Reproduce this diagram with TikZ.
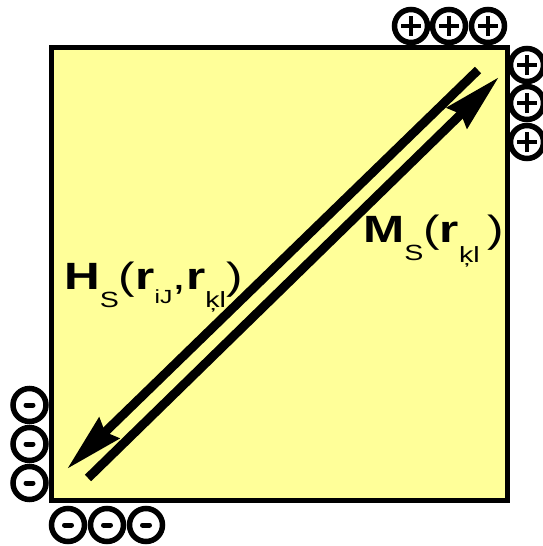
\documentclass[tikz,border=0pt]{standalone}
\usepackage{fontspec}
\setmainfont{Liberation Sans}
\usetikzlibrary{arrows.meta}
\definecolor{padyellow}{RGB}{255,255,153}
\newcommand\bigsize{\fontsize{38}{40}\selectfont}
\newcommand\subsize{\fontsize{22}{24}\selectfont}
\newcommand\widetext[1]{\scalebox{1.3}[1]{#1}}
\begin{document}
\begin{tikzpicture}[x=1pt,y=-1pt,
    charge/.style={circle,draw,line width=5.5pt,minimum size=33pt,inner sep=0pt},
    pluscharge/.style={charge,path picture={
        \draw[line width=4pt] ([xshift=-10pt]path picture bounding box.center) -- ([xshift=10pt]path picture bounding box.center);
        \draw[line width=4pt] ([yshift=-10pt]path picture bounding box.center) -- ([yshift=10pt]path picture bounding box.center);}},
    minuscharge/.style={charge,path picture={
        \draw[line width=5pt,line cap=round] ([xshift=-3.5pt]path picture bounding box.center) -- ([xshift=3.5pt]path picture bounding box.center);}},
    flux/.style={line width=9pt,-{Stealth[length=58pt,width=28pt,inset=5pt]}},
    formula/.style={inner sep=0pt,anchor=base west,font=\bigsize}]
  \useasboundingbox (0,0) rectangle (542,546);
  % pad
  \draw[line width=5pt,fill=padyellow] (51,47) rectangle (507,500);
  % charges
  \foreach \x [count=\i] in {411,449,488}
    \node[pluscharge] (top\i) at (\x,26) {};
  \foreach \y [count=\i] in {65,103,142}
    \node[pluscharge] (right\i) at (527,\y) {};
  \foreach \y [count=\i] in {405,444,483}
    \node[minuscharge] (left\i) at (29.5,\y) {};
  \foreach \x [count=\i] in {68,107,146}
    \node[minuscharge] (bottom\i) at (\x,525) {};
  % flux arrows
  \coordinate (hstart) at (478,70);
  \coordinate (htip) at (67,469);
  \coordinate (mstart) at (88,478);
  \coordinate (mtip) at (499,77);
  \draw[flux] (hstart) -- (htip);
  \draw[flux] (mstart) -- (mtip);
  % labels
  \node[formula] (mlabel) at (363,242)
    {\widetext{\textbf{M}\raisebox{-18pt}{\subsize S}(\textbf{r}\raisebox{-20pt}{\subsize ķl}\hspace{6pt})}};
  \node[formula] (hlabel) at (64,289)
    {\widetext{\textbf{H}\raisebox{-18pt}{\subsize S}(\textbf{r}\raisebox{-14pt}{\fontsize{19}{20}\selectfont iJ},\textbf{r}\raisebox{-18pt}{\subsize ķl})}};
\end{tikzpicture}
\end{document}
